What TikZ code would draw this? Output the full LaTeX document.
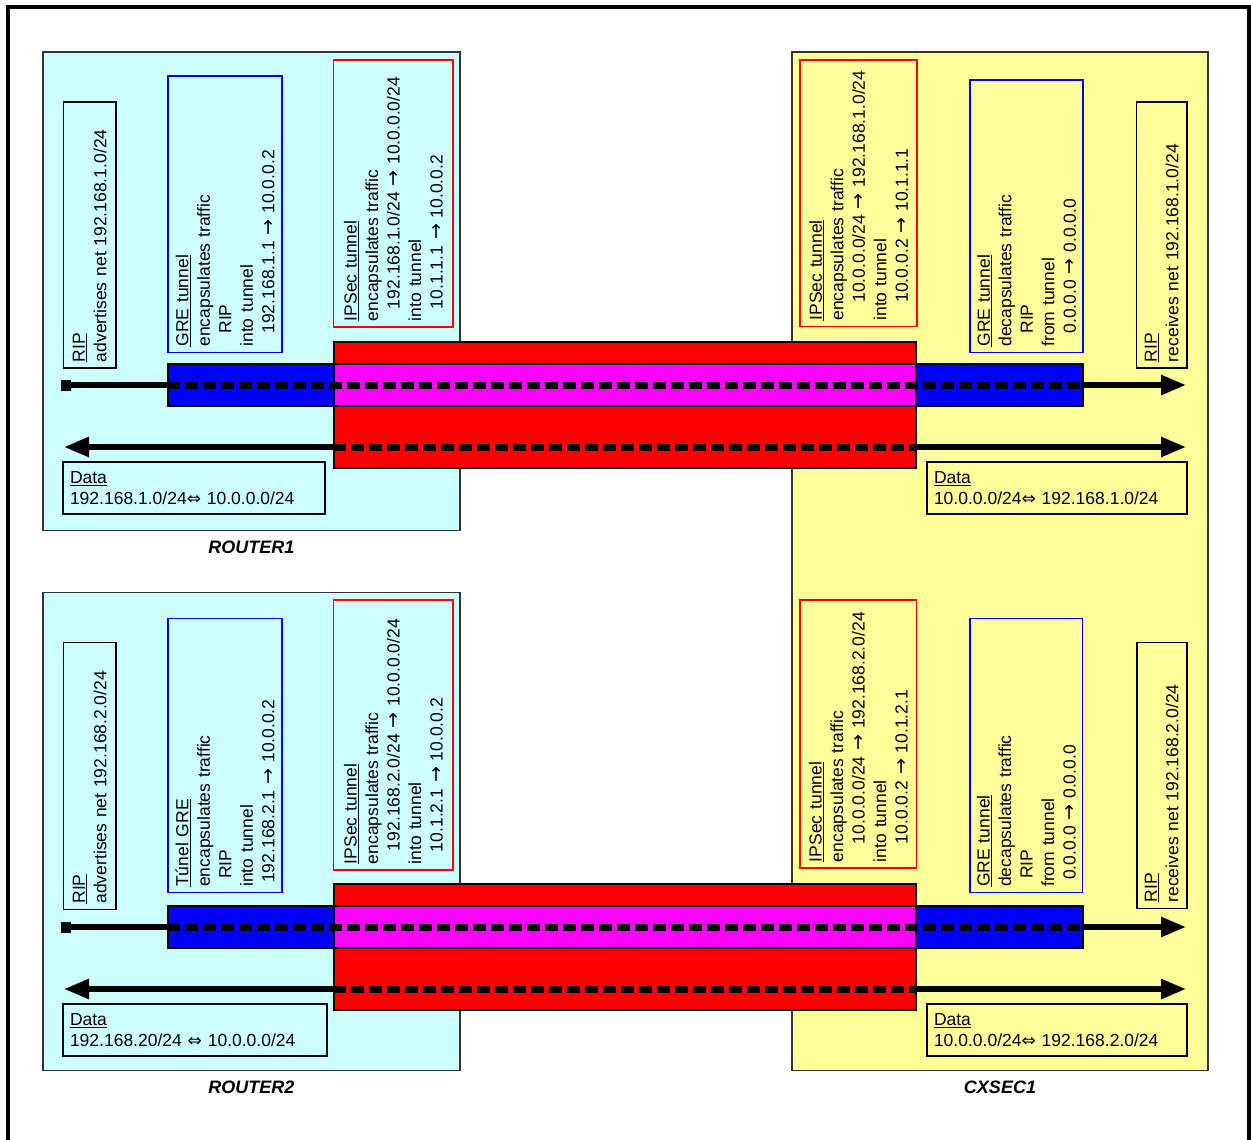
\documentclass[tikz,border=0pt]{standalone}
\usepackage{fontspec}
\setmainfont{Liberation Sans}
\newfontfamily\arrowfont{DejaVu Sans}
\usetikzlibrary{arrows.meta, positioning}
\definecolor{routerfill}{HTML}{CCFFFF}
\definecolor{gatewayfill}{HTML}{FFFF99}
\definecolor{espred}{HTML}{FF0000}
\definecolor{innerpink}{HTML}{FF00FF}
\definecolor{greblue}{HTML}{0000FF}
\newcommand{\notefont}{\fontsize{17.5}{21.5}\selectfont}
\newcommand{\goesto}{{\arrowfont\fontsize{19}{21.5}\selectfont →}}
\newcommand{\bothways}{{\arrowfont\fontsize{17}{21.5}\selectfont ⇔}}
\tikzset{
    router/.style = { draw=black!80, line width=1.5pt, fill=routerfill, inner sep=0pt },
    gateway/.style = { draw=black!80, line width=1.5pt, fill=gatewayfill, inner sep=0pt },
    hostname/.style = { font=\fontsize{18}{21}\selectfont\bfseries\itshape, inner sep=0pt },
    note/.style = { align=left, inner xsep=6pt, inner ysep=0pt, font=\notefont },
    ripnote/.style = { note, draw=black, line width=1.6pt, rotate=90 },
    grenote/.style = { note, draw=greblue, line width=1.3pt, rotate=90 },
    ipsecnote/.style = { note, draw=espred, line width=1.3pt, rotate=90 },
    datanote/.style = { note, draw=black, line width=1.6pt, inner xsep=7pt }
}

\begin{document}
\begin{tikzpicture}[
    x=1pt, y=-1pt,
    band/.style = { draw=black, line width=1.6pt, inner sep=0pt },
    ipsecband/.style = { band, fill=espred, minimum width=582pt, minimum height=126pt },
    innerband/.style = { band, fill=innerpink, minimum width=582pt, minimum height=42pt },
    greband/.style = { band, fill=greblue, minimum height=42pt },
    flow/.style = { line width=5.5pt, black },
    tunnelflow/.style = { line width=7pt, black, dash pattern=on 13pt off 5pt }
    ]
    %%% Picture laid out in pixels of the original drawing, y going down.
    \useasboundingbox (0,0) rectangle (1251,1140);
    \draw[line width=4pt] (7.5,7.5) rectangle (1248.5,1170);

    %%%
    %%% Hosts
    %%%
    \node[router, minimum width=417pt, minimum height=478.5pt] (routerA) at (251.5,291.25) {};
    \node[router, minimum width=417pt, minimum height=478pt] (routerB) at (251.5,831.5) {};
    \node[gateway, minimum width=416pt, minimum height=1018.5pt] (cxsec) at (1000,561.25) {};
    \node[hostname, below=9pt of routerA] (nameA) {ROUTER1};
    \node[hostname, below=9pt of routerB] (nameB) {ROUTER2};
    \node[hostname, below=9pt of cxsec] (namex) {CXSEC1};

    %%%
    %%% Tunnels, one row per router
    %%%
    % Row, vertical offset
    \foreach \row / \dy in {A/0, B/542}
      {
        \node[ipsecband] (esp\row) at (625,405+\dy) {};
        \node[innerband] (inner\row) at (625,385+\dy) {};
        \node[greband, minimum width=166pt] (greL\row) at (251,385+\dy) {};
        \node[greband, minimum width=167pt] (greR\row) at (999.5,385+\dy) {};
        \coordinate (ripL\row) at (61,385+\dy);
        \coordinate (ripR\row) at (1186,385+\dy);
        \coordinate (dataL\row) at (64,447+\dy);
        \coordinate (dataR\row) at (1186,447+\dy);
        % RIP updates through GRE
        \draw[flow, {Square[length=10pt,width=11pt]}-] (ripL\row) -- (greL\row.west);
        \draw[tunnelflow] (greL\row.west) -- (greR\row.east);
        \draw[flow, -{Triangle[length=25pt,width=19pt]}] (greR\row.east) -- (ripR\row);
        % Data through IPSec
        \draw[flow, -{Triangle[length=25pt,width=19pt]}] (esp\row.west |- dataL\row) -- (dataL\row);
        \draw[tunnelflow] (esp\row.west |- dataL\row) -- (esp\row.east |- dataR\row);
        \draw[flow, -{Triangle[length=25pt,width=19pt]}] (esp\row.east |- dataR\row) -- (dataR\row);
      }

    %%%
    %%% ROUTER1 and CXSEC1, upper row
    %%%
    \node[ripnote, minimum width=266pt, minimum height=52.5pt, text width=254pt] (ripA) at (89.75,235)
      {\underline{RIP}\\advertises net 192.168.1.0/24};
    \node[grenote, minimum width=276.5pt, minimum height=114pt, text width=264.5pt] (greA) at (225,214.25)
      {\underline{GRE tunnel}\\encapsulates traffic\\\hspace*{13pt}RIP\\into tunnel\\\hspace*{13pt}192.168.1.1 \goesto{} 10.0.0.2};
    \node[ipsecnote, minimum width=267pt, minimum height=119.5pt, text width=255pt] (ipsecA) at (393.25,193.5)
      {\underline{IPSec tunnel}\\encapsulates traffic\\\hspace*{12pt}192.168.1.0/24 \goesto{} 10.0.0.0/24\\into tunnel\\\hspace*{12pt}10.1.1.1 \goesto{} 10.0.0.2};
    \node[datanote, minimum width=262pt, minimum height=52pt, text width=248pt] (dataA) at (194,488)
      {\underline{Data}\\192.168.1.0/24\bothways{} 10.0.0.0/24};
    \node[ipsecnote, minimum width=266.5pt, minimum height=117pt, text width=254.5pt] (ipsecxA) at (858.5,193.25)
      {\underline{IPSec tunnel}\\encapsulates traffic\\\hspace*{18pt}10.0.0.0/24 \goesto{} 192.168.1.0/24\\into tunnel\\\hspace*{18pt}10.0.0.2 \goesto{} 10.1.1.1};
    \node[grenote, minimum width=272.5pt, minimum height=113pt, text width=260.5pt] (grexA) at (1026.5,216.25)
      {\underline{GRE tunnel}\\decapsulates traffic\\\hspace*{13pt}RIP\\from tunnel\\\hspace*{13pt}0.0.0.0 \goesto{} 0.0.0.0};
    \node[ripnote, minimum width=266pt, minimum height=50.5pt, text width=254pt] (ripxA) at (1161.75,235)
      {\underline{RIP}\\receives net 192.168.1.0/24};
    \node[datanote, minimum width=260pt, minimum height=52pt, text width=246pt] (dataxA) at (1057,488)
      {\underline{Data}\\10.0.0.0/24\bothways{} 192.168.1.0/24};

    %%%
    %%% ROUTER2 and CXSEC1, lower row
    %%%
    \node[ripnote, minimum width=267pt, minimum height=52.5pt, text width=255pt] (ripB) at (89.75,776)
      {\underline{RIP}\\advertises net 192.168.2.0/24};
    \node[grenote, minimum width=274.5pt, minimum height=114pt, text width=262.5pt] (greB) at (225,755.5)
      {\underline{Túnel GRE}\\encapsulates traffic\\\hspace*{8pt}RIP\\into tunnel\\\hspace*{4pt}192.168.2.1 \goesto{} 10.0.0.2};
    \node[ipsecnote, minimum width=270pt, minimum height=119.5pt, text width=258pt] (ipsecB) at (393.25,735)
      {\underline{IPSec tunnel}\\encapsulates traffic\\\hspace*{13pt}192.168.2.0/24 \goesto{} 10.0.0.0/24\\into tunnel\\\hspace*{12pt}10.1.2.1 \goesto{} 10.0.0.2};
    \node[datanote, minimum width=264pt, minimum height=52pt, text width=250pt] (dataB) at (195,1030)
      {\underline{Data}\\192.168.20/24 \bothways{} 10.0.0.0/24};
    \node[ipsecnote, minimum width=268pt, minimum height=116.5pt, text width=256pt] (ipsecxB) at (858.3,734)
      {\underline{IPSec tunnel}\\encapsulates traffic\\\hspace*{18pt}10.0.0.0/24 \goesto{} 192.168.2.0/24\\into tunnel\\\hspace*{18pt}10.0.0.2 \goesto{} 10.1.2.1};
    \node[grenote, minimum width=274.5pt, minimum height=112.5pt, text width=262.5pt] (grexB) at (1026.3,755.5)
      {\underline{GRE tunnel}\\decapsulates traffic\\\hspace*{8pt}RIP\\from tunnel\\\hspace*{7pt}0.0.0.0 \goesto{} 0.0.0.0};
    \node[ripnote, minimum width=266pt, minimum height=50pt, text width=254pt] (ripxB) at (1161.7,775.3)
      {\underline{RIP}\\receives net 192.168.2.0/24};
    \node[datanote, minimum width=260pt, minimum height=52pt, text width=246pt] (dataxB) at (1057,1030)
      {\underline{Data}\\10.0.0.0/24\bothways{} 192.168.2.0/24};
\end{tikzpicture}
\end{document}
